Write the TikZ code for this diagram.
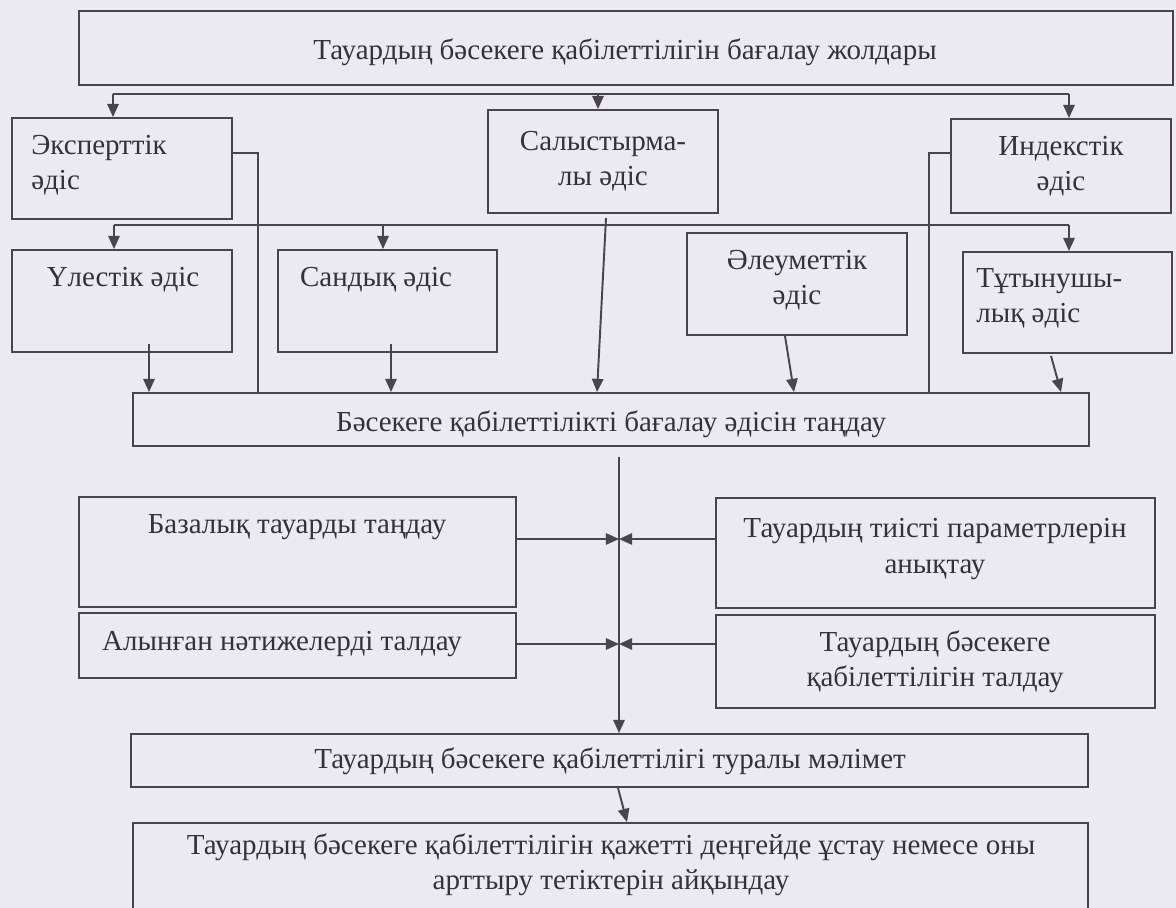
\documentclass[tikz,border=0pt]{standalone}
\usepackage{fontspec}
\setmainfont{Liberation Serif}
\usetikzlibrary{arrows.meta,fit,calc}
\definecolor{bgc}{RGB}{235,235,239}
\definecolor{linec}{RGB}{72,70,76}
\definecolor{txtc}{RGB}{50,50,55}
\tikzset{
  box/.style={draw=linec, line width=1.1pt, inner sep=0pt, fill=none},
  txt/.style={text=txtc, inner sep=0pt, font=\fontsize{16.5}{20}\selectfont},
  conn/.style={draw=linec, line width=1.1pt},
  arr/.style={conn, -{Triangle[length=7.5pt,width=6.5pt]}},
}
\begin{document}
\begin{tikzpicture}[x=0.02cm,y=-0.02cm]
\fill[bgc] (0,0) rectangle (1176,908);
\useasboundingbox (0,0) rectangle (1176,908);
% boxes
\node[box, fit={(79,11)(1173,85)}] (top) {};
\node[box, fit={(12,118)(232,219)}] (exp) {};
\node[box, fit={(488,110)(718,213)}] (sal) {};
\node[box, fit={(951,119)(1171,213)}] (ind) {};
\node[box, fit={(12,250)(232,352)}] (ul) {};
\node[box, fit={(278,250)(497,352)}] (san) {};
\node[box, fit={(687,233)(907,335)}] (ale) {};
\node[box, fit={(963,252)(1172,353)}] (tut) {};
\node[box, fit={(133,393)(1089,446)}] (bag) {};
\node[box, fit={(79,497)(516,607)}] (baz) {};
\node[box, fit={(716,498)(1155,608)}] (ti) {};
\node[box, fit={(79,613)(516,678)}] (al) {};
\node[box, fit={(716,615)(1155,708)}] (bst) {};
\node[box, fit={(131,734)(1088,787)}] (mal) {};
\node[box, fit={(133,823)(1088,914)}] (last) {};
% texts
\node[txt] (topT) at (625,52) {Тауардың бәсекеге қабілеттілігін бағалау жолдары};
\node[txt, anchor=west, align=left] (expT) at (31,165) {Эксперттік\\әдіс};
\node[txt, align=center] (salT) at (603,161) {Салыстырма-\\лы әдіс};
\node[txt, align=center] (indT) at (1061,166) {Индекстік\\әдіс};
\node[txt] (ulT) at (123,280) {Үлестік әдіс};
\node[txt] (sanT) at (376,280) {Сандық әдіс};
\node[txt, align=center] (aleT) at (797,280) {Әлеуметтік\\әдіс};
\node[txt, anchor=west, align=left] (tutT) at (976,298) {Тұтынушы-\\лық әдіс};
\node[txt] (bagT) at (611,424) {Бәсекеге қабілеттілікті бағалау әдісін таңдау};
\node[txt] (bazT) at (297,527) {Базалық тауарды таңдау};
\node[txt, align=center] (tiT) at (935,549) {Тауардың тиісті параметрлерін\\анықтау};
\node[txt] (alT) at (282,644) {Алынған нәтижелерді талдау};
\node[txt, align=center] (bstT) at (935,662) {Тауардың бәсекеге\\қабілеттілігін талдау};
\node[txt] (malT) at (610,761) {Тауардың бәсекеге қабілеттілігі туралы мәлімет};
\node[txt, align=center] (lastT) at (611,865) {Тауардың бәсекеге қабілеттілігін қажетті деңгейде ұстау немесе оны\\арттыру тетіктерін айқындау};
% bus 1
\coordinate (b1L) at (113,94);
\coordinate (b1M) at (598,94);
\coordinate (b1R) at (1069,94);
\draw[conn] (b1L) -- (b1R);
\draw[arr] (b1L) -- (b1L |- exp.north);
\draw[arr] (b1M) -- (b1M |- sal.north);
\draw[arr] (b1R) -- (b1R |- ind.north);
% bus 2
\coordinate (b2L) at (114,225);
\coordinate (b2M) at (383,225);
\coordinate (b2R) at (1069,225);
\draw[conn] (b2L) -- (b2R);
\draw[arr] (b2L) -- (b2L |- ul.north);
\draw[arr] (b2M) -- (b2M |- san.north);
\draw[arr] (b2R) -- (b2R |- tut.north);
% side connectors
\draw[conn] (exp.east |- 0,153) -| (bag.north -| 258,0);
\draw[conn] (ind.west |- 0,153) -| (bag.north -| 929,0);
% arrows into bag
\draw[arr] ($(ul.south -| 149,0)+(0,-9)$) -- (bag.north -| 149,0);
\draw[arr] ($(san.south -| 391,0)+(0,-9)$) -- (bag.north -| 391,0);
\draw[arr] ($(sal.south -| 606,0)+(0,4)$) -- (bag.north -| 597,0);
\draw[arr] (ale.south -| 785,0) -- (bag.north -| 794,0);
\draw[arr] ($(tut.south -| 1051,0)+(0,2)$) -- (bag.north -| 1061,0);
% central line
\coordinate (c1) at (619,457);
\draw[arr] (c1) -- (c1 |- mal.north);
\draw[arr] (baz.east |- 0,539) -- (c1 |- 0,539);
\draw[arr] (ti.west |- 0,539) -- (c1 |- 0,539);
\draw[arr] (al.east |- 0,644) -- (c1 |- 0,644);
\draw[arr] (bst.west |- 0,644) -- (c1 |- 0,644);
% mal -> last
\draw[arr] (mal.south -| 618,0) -- (last.north -| 627,0);
\end{tikzpicture}
\end{document}
